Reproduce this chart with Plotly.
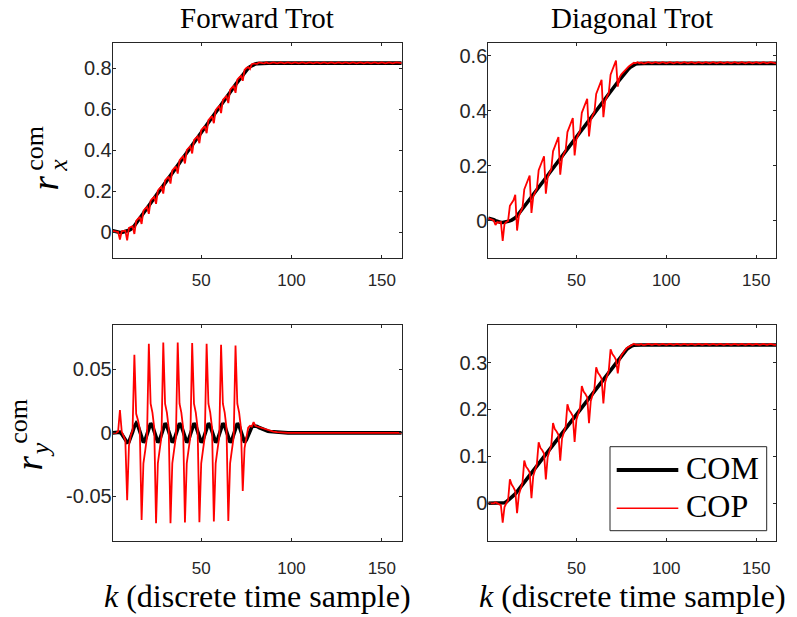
import plotly.graph_objects as go

W, H = 797, 617

# ---------------- data ----------------
k_dense = list(range(1, 89))
k_tail = [90, 92, 94, 96, 98, 100, 102, 104, 106, 108, 110, 112, 114, 116, 118, 120, 122, 124,
          126, 128, 130, 132, 134, 136, 138, 140, 142, 144, 146, 148, 150, 152, 154, 156, 158, 160, 161]

# Forward trot, r_x
fx_com = [0.006, 0.003, 0.001, -0.001, -0.002, -0.002, 0.000, 0.002, 0.005, 0.009, 0.014, 0.021, 0.031, 0.043,
          0.055, 0.068, 0.080, 0.092, 0.105, 0.117, 0.129, 0.142, 0.154, 0.166, 0.178, 0.191, 0.203, 0.215,
          0.228, 0.240, 0.252, 0.265, 0.277, 0.289, 0.301, 0.314, 0.326, 0.338, 0.351, 0.363, 0.375, 0.388,
          0.400, 0.412, 0.424, 0.437, 0.449, 0.461, 0.474, 0.486, 0.498, 0.511, 0.523, 0.535, 0.547, 0.560,
          0.572, 0.584, 0.597, 0.609, 0.621, 0.634, 0.646, 0.658, 0.670, 0.683, 0.695, 0.707, 0.720, 0.732,
          0.744, 0.757, 0.769, 0.781, 0.792, 0.801, 0.808, 0.814, 0.818, 0.821, 0.823, 0.824, 0.825, 0.825,
          0.825, 0.825, 0.825, 0.825]
fx_com_tail = [0.825] * 37
fx_cop = [0.006, 0.003, 0.001, 0.000, -0.036, 0.004, 0.006, 0.007, -0.040, 0.021, 0.025, 0.029,
          -0.009, 0.055, 0.065, 0.074, 0.040, 0.104, 0.115, 0.123, 0.089, 0.154, 0.164, 0.172,
          0.138, 0.203, 0.213, 0.221, 0.188, 0.252, 0.262, 0.271, 0.237, 0.301, 0.311, 0.320,
          0.286, 0.350, 0.361, 0.369, 0.335, 0.400, 0.410, 0.418, 0.384, 0.449, 0.459, 0.467,
          0.434, 0.498, 0.508, 0.517, 0.483, 0.547, 0.557, 0.566, 0.532, 0.596, 0.607, 0.615,
          0.581, 0.646, 0.656, 0.664, 0.630, 0.695, 0.705, 0.713, 0.680, 0.744, 0.754, 0.763,
          0.739, 0.792, 0.801, 0.806, 0.796, 0.820, 0.823, 0.823, 0.822, 0.829, 0.826, 0.825,
          0.824, 0.829, 0.825, 0.824]
fx_cop_tail = [0.829, 0.824, 0.829, 0.824, 0.829, 0.824, 0.829, 0.824, 0.829, 0.824, 0.829, 0.824,
               0.829, 0.824, 0.829, 0.824, 0.829, 0.824, 0.829, 0.824, 0.829, 0.824, 0.829, 0.824,
               0.829, 0.824, 0.829, 0.824, 0.829, 0.824, 0.829, 0.824, 0.829, 0.824, 0.829, 0.824, 0.825]

# Forward trot, r_y
fy_com = [0.0, 0.0, 0.0, 0.0, 0.0005, -0.001, -0.003, -0.0055, -0.0075, -0.007, -0.004, 0.0005, 0.005,
          0.0075, 0.0055, 0.001, -0.004, -0.0075, -0.0055, -0.001, 0.004,
          0.0075, 0.0055, 0.001, -0.004, -0.0075, -0.0055, -0.001, 0.004,
          0.0075, 0.0055, 0.001, -0.004, -0.0075, -0.0055, -0.001, 0.004,
          0.0075, 0.0055, 0.001, -0.004, -0.0075, -0.0055, -0.001, 0.004,
          0.0075, 0.0055, 0.001, -0.004, -0.0075, -0.0055, -0.001, 0.004,
          0.0075, 0.0055, 0.001, -0.004, -0.0075, -0.0055, -0.001, 0.004,
          0.0075, 0.0055, 0.001, -0.004, -0.0075, -0.0055, -0.001, 0.004,
          0.0075, 0.0055, 0.001, -0.004, -0.0075, -0.0055, -0.002, 0.002,
          0.0045, 0.0055, 0.0055, 0.005, 0.0042, 0.0035, 0.0028, 0.0022, 0.0017, 0.0013, 0.001]
fy_com_tail = [0.0007, 0.0004, 0.0002, 0.0001] + [0.0] * 33
fy_cop = [0.0, 0.0, 0.0, 0.001, 0.018, 0.001, -0.003, -0.006, -0.053, -0.010, -0.002, 0.002,
          0.0616, 0.015, 0.010, 0.003, -0.0686, -0.024, -0.014, -0.003,
          0.0702, 0.023, 0.016, 0.004, -0.0712, -0.024, -0.0135, -0.003,
          0.0712, 0.023, 0.016, 0.004, -0.0712, -0.024, -0.0135, -0.003,
          0.0712, 0.023, 0.016, 0.004, -0.0707, -0.024, -0.0135, -0.003,
          0.0707, 0.023, 0.016, 0.004, -0.0705, -0.024, -0.0135, -0.003,
          0.0702, 0.023, 0.016, 0.004, -0.0699, -0.024, -0.0135, -0.003,
          0.0695, 0.023, 0.016, 0.004, -0.0694, -0.024, -0.0135, -0.003,
          0.0689, 0.023, 0.016, 0.004, -0.0458, -0.012, -0.004, 0.004,
          0.0055, 0.005, 0.0085, 0.0055, 0.005, 0.0045, 0.004, 0.0035, 0.003, 0.0025, 0.002, 0.0015]
fy_cop_tail = [0.001, 0.0006, 0.0003, 0.0001] + [0.0] * 33

# Diagonal trot, r_x
dx_com = [0.010, 0.009, 0.007, 0.004, 0.001, -0.002, -0.005, -0.006, -0.006, -0.005, -0.004, -0.002,
          0.000, 0.003, 0.006, 0.011, 0.018, 0.026, 0.035,
          0.044, 0.052, 0.061, 0.070, 0.078, 0.087, 0.096, 0.104, 0.113, 0.122, 0.131, 0.139, 0.148,
          0.157, 0.165, 0.174, 0.183, 0.191, 0.200, 0.209, 0.218, 0.226, 0.235, 0.244, 0.252, 0.261,
          0.270, 0.278, 0.287, 0.296, 0.305, 0.313, 0.322, 0.331, 0.339, 0.348, 0.357, 0.365, 0.374,
          0.383, 0.392, 0.400, 0.409, 0.418, 0.426, 0.435, 0.444, 0.452, 0.461, 0.470, 0.479, 0.487,
          0.496, 0.505, 0.513, 0.522, 0.531,
          0.538, 0.546, 0.553, 0.559, 0.564, 0.568, 0.571, 0.572, 0.573, 0.573, 0.573, 0.573]
dx_com_tail = [0.573] * 37
dx_cop = [0.010, 0.008, 0.006, 0.002, -0.015, -0.004, -0.006, -0.004, -0.073, -0.012, -0.004, 0.000,
          0.055, 0.065, 0.075, 0.0945,
          -0.035, 0.018, 0.035, 0.048, 0.114, 0.133, 0.150, 0.165,
          0.029, 0.088, 0.104, 0.117, 0.184, 0.203, 0.219, 0.235,
          0.099, 0.157, 0.174, 0.187, 0.253, 0.272, 0.289, 0.305,
          0.168, 0.227, 0.244, 0.256, 0.323, 0.342, 0.358, 0.374,
          0.238, 0.297, 0.313, 0.326, 0.393, 0.411, 0.428, 0.444,
          0.307, 0.366, 0.383, 0.395, 0.462, 0.481, 0.498, 0.513,
          0.377, 0.436, 0.452, 0.465, 0.532, 0.551, 0.567, 0.583,
          0.488, 0.522, 0.533, 0.540, 0.550, 0.556, 0.561, 0.566, 0.570, 0.575, 0.574, 0.577,
          0.573, 0.576, 0.573, 0.573]
dx_cop_tail = [0.577, 0.573, 0.577, 0.573, 0.577, 0.573, 0.577, 0.573, 0.577, 0.573, 0.577, 0.573,
               0.577, 0.573, 0.577, 0.573, 0.577, 0.573, 0.577, 0.573, 0.577, 0.573, 0.577, 0.573,
               0.577, 0.573, 0.577, 0.573, 0.577, 0.573, 0.577, 0.573, 0.577, 0.573, 0.577, 0.573, 0.573]

# Diagonal trot, r_y
dy_com = [0.0, 0.0, 0.0, 0.0, 0.0, 0.0, 0.0, 0.0, 0.0, 0.001, 0.003, 0.006, 0.009, 0.012, 0.016, 0.020, 0.025,
          0.030, 0.035, 0.040, 0.045, 0.050, 0.055, 0.060, 0.065, 0.070, 0.075, 0.080, 0.085, 0.090,
          0.095, 0.100, 0.105, 0.110, 0.115, 0.120, 0.125, 0.130, 0.135, 0.140, 0.145, 0.150, 0.155,
          0.160, 0.165, 0.170, 0.175, 0.180, 0.185, 0.190, 0.195, 0.200, 0.205, 0.210, 0.215, 0.220,
          0.225, 0.230, 0.235, 0.240, 0.245, 0.250, 0.255, 0.260, 0.265, 0.270, 0.275, 0.280, 0.285,
          0.290, 0.295, 0.300, 0.305, 0.310, 0.315, 0.320,
          0.324, 0.328, 0.331, 0.334, 0.336, 0.337, 0.3375, 0.3375, 0.3375, 0.3375, 0.3375, 0.3375]
dy_com_tail = [0.3375] * 37
dy_cop = [0.0, 0.0, 0.0, 0.0, 0.002, 0.0, -0.002, -0.004, -0.041, -0.008, 0.0, 0.006,
          0.051, 0.040, 0.034, 0.026, -0.021, 0.018, 0.031, 0.043,
          0.091, 0.078, 0.073, 0.066, 0.011, 0.058, 0.071, 0.083,
          0.130, 0.118, 0.113, 0.106, 0.051, 0.098, 0.111, 0.123,
          0.171, 0.158, 0.153, 0.146, 0.091, 0.138, 0.151, 0.163,
          0.211, 0.198, 0.193, 0.186, 0.131, 0.178, 0.191, 0.203,
          0.250, 0.238, 0.233, 0.226, 0.171, 0.218, 0.231, 0.243,
          0.290, 0.278, 0.273, 0.266, 0.213, 0.258, 0.271, 0.283,
          0.328, 0.318, 0.313, 0.306, 0.277, 0.305, 0.315, 0.322,
          0.326, 0.331, 0.333, 0.336, 0.338, 0.340, 0.338, 0.3375, 0.3375, 0.3395, 0.3375, 0.3375]
dy_cop_tail = [0.3395, 0.3375, 0.3395, 0.3375, 0.3395, 0.3375, 0.3395, 0.3375, 0.3395, 0.3375,
               0.3395, 0.3375, 0.3395, 0.3375, 0.3395, 0.3375, 0.3395, 0.3375, 0.3395, 0.3375,
               0.3395, 0.3375, 0.3395, 0.3375, 0.3395, 0.3375, 0.3395, 0.3375, 0.3395, 0.3375,
               0.3395, 0.3375, 0.3395, 0.3375, 0.3395, 0.3375, 0.3375]

k_ticks = [50, 100, 150]
k_ticklabels = ["50", "100", "150"]
fx_ticks = [0, 0.2, 0.4, 0.6, 0.8]
fx_ticklabels = ["0", "0.2", "0.4", "0.6", "0.8"]
dx_ticks = [0, 0.2, 0.4, 0.6]
dx_ticklabels = ["0", "0.2", "0.4", "0.6"]
fy_ticks = [-0.05, 0, 0.05]
fy_ticklabels = ["-0.05", "0", "0.05"]
dy_ticks = [0, 0.1, 0.2, 0.3]
dy_ticklabels = ["0", "0.1", "0.2", "0.3"]

titles = ["Forward Trot", "Diagonal Trot"]
xlabel = "<i>k</i> (discrete time sample)"
legend_names = ["COM", "COP"]

# ---------------- figure ----------------
for a, b in [(fx_com, fx_cop), (fy_com, fy_cop), (dx_com, dx_cop), (dy_com, dy_cop)]:
    assert len(a) == len(k_dense) and len(b) == len(k_dense), (len(a), len(b))
for t in [fx_com_tail, fx_cop_tail, fy_com_tail, fy_cop_tail, dx_com_tail, dx_cop_tail, dy_com_tail, dy_cop_tail]:
    assert len(t) == len(k_tail), len(t)

kk = k_dense + k_tail
panels = [
    ("x", "y", fx_com + fx_com_tail, fx_cop + fx_cop_tail),
    ("x2", "y2", dx_com + dx_com_tail, dx_cop + dx_cop_tail),
    ("x3", "y3", fy_com + fy_com_tail, fy_cop + fy_cop_tail),
    ("x4", "y4", dy_com + dy_com_tail, dy_cop + dy_cop_tail),
]

COM_COLOR, COP_COLOR = "#000000", "#ff0000"
COM_W, COP_W = 3.6, 1.8

fig = go.Figure()
for xa, ya, com, cop in panels:
    fig.add_trace(go.Scatter(x=kk, y=com, mode="lines", xaxis=xa, yaxis=ya,
                             line=dict(color=COM_COLOR, width=COM_W), name=legend_names[0],
                             showlegend=False))
    fig.add_trace(go.Scatter(x=kk, y=cop, mode="lines", xaxis=xa, yaxis=ya,
                             line=dict(color=COP_COLOR, width=COP_W), name=legend_names[1],
                             showlegend=False))

AX = "#262626"


def xax(dom, anchor, standoff):
    return dict(domain=dom, range=[1, 161], tickvals=k_ticks, ticktext=k_ticklabels,
                showline=True, linecolor=AX, linewidth=1, mirror="ticks", ticks="inside",
                ticklen=3, tickcolor=AX, showgrid=False, zeroline=False, anchor=anchor,
                ticklabelstandoff=standoff,
                tickfont=dict(family="Liberation Sans", size=17, color=AX))


def yax(dom, rng, tv, tt, anchor):
    return dict(domain=dom, range=rng, tickvals=tv, ticktext=tt,
                showline=True, linecolor=AX, linewidth=1, mirror="ticks", ticks="inside",
                ticklen=3, tickcolor=AX, showgrid=False, zeroline=False, anchor=anchor,
                ticklabelstandoff=-4,
                tickfont=dict(family="Liberation Sans", size=20, color=AX))


xl = [112.7 / W, 401.7 / W]
xr = [488.3 / W, 776.0 / W]
yt = [1 - 258.3 / H, 1 - 42.7 / H]
yb = [1 - 540.7 / H, 1 - 325.0 / H]

fig.update_layout(
    width=W, height=H, margin=dict(l=0, r=0, t=0, b=0),
    paper_bgcolor="white", plot_bgcolor="white", showlegend=False,
    xaxis=xax(xl, "y", 6), yaxis=yax(yt, [-0.128, 0.925], fx_ticks, fx_ticklabels, "x"),
    xaxis2=xax(xr, "y2", 6), yaxis2=yax(yt, [-0.136, 0.648], dx_ticks, dx_ticklabels, "x2"),
    xaxis3=xax(xl, "y3", 12), yaxis3=yax(yb, [-0.085, 0.085], fy_ticks, fy_ticklabels, "x3"),
    xaxis4=xax(xr, "y4", 12), yaxis4=yax(yb, [-0.0797, 0.380], dy_ticks, dy_ticklabels, "x4"),
)


def px(x):
    return x / W


def py(y):
    return 1 - y / H


def ann(text, x, y, size, angle=0, xanchor="center", yanchor="middle"):
    return dict(text=text, x=px(x), y=py(y), xref="paper", yref="paper",
                xanchor=xanchor, yanchor=yanchor, showarrow=False, textangle=angle,
                font=dict(family="Liberation Serif", size=size, color="black"))


annots = [
    ann(titles[0], 257.2, 0, 29, yanchor="top"),
    ann(titles[1], 632.2, 0, 29, yanchor="top"),
    ann(xlabel, 257.2, 596.0, 32),
    ann(xlabel, 632.2, 596.0, 32),
    # r_x^com
    ann("<i>r</i>", 44.5, 183, 37, -90),
    ann("com", 34.2, 148.5, 26, -90),
    ann("<i>x</i>", 58.2, 165.5, 26, -90),
    # r_y^com
    ann("<i>r</i>", 29.5, 463, 37, -90),
    ann("com", 18.2, 421.5, 26, -90),
    ann("<i>y</i>", 40.2, 450, 26, -90),
    # legend entries
    ann(legend_names[0], 684, 467.5, 32, xanchor="left"),
    ann(legend_names[1], 684, 505.9, 32, xanchor="left"),
]

# legend box and samples (paper coordinates)
shapes = [
    dict(type="rect", xref="paper", yref="paper", x0=px(610), x1=px(766.7), y0=py(530.7), y1=py(446.7),
         line=dict(color=AX, width=1), fillcolor="white", layer="above"),
    dict(type="line", xref="paper", yref="paper", x0=px(616.7), x1=px(678.3), y0=py(470), y1=py(470),
         line=dict(color=COM_COLOR, width=4), layer="above"),
    dict(type="line", xref="paper", yref="paper", x0=px(616.7), x1=px(678.3), y0=py(508.3), y1=py(508.3),
         line=dict(color=COP_COLOR, width=1.5), layer="above"),
]
fig.update_layout(annotations=annots, shapes=shapes)

fig.write_html("out.html", config={"displayModeBar": False},
               post_script="document.body.style.margin='0px';document.body.style.overflow='hidden';")
